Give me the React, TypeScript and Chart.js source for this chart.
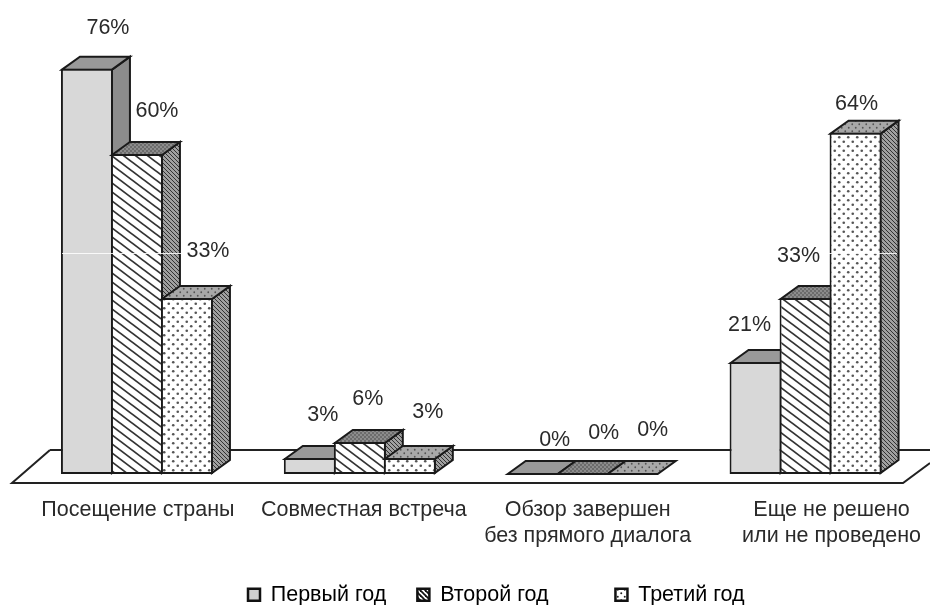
import React, { useEffect, useRef } from "react";
import { Chart, registerables } from "chart.js";

Chart.register(...registerables);

const categories: (string | string[])[] = [
  "Посещение страны",
  "Совместная встреча",
  ["Обзор завершен", "без прямого диалога"],
  ["Еще не решено", "или не проведено"],
];
const seriesNames = ["Первый год", "Второй год", "Третий год"];
const firstYear = [76, 3, 0, 21];
const secondYear = [60, 6, 0, 33];
const thirdYear = [33, 3, 0, 64];

// where each label sits relative to the top of its bar
const labelShiftX = [[21, 13, 22, -6], [20, 8, 21, -7], [21, 18, 20, 1]];
const labelShiftY = [[-41, -43, -34, -37], [-43, -43, -41, -42], [-47, -46, -44, -29]];
const tickShiftX = [1, 4, 5, 26];
const legendGapSpaces = ["", "      ", ""];

const FONT = "'Liberation Sans', Arial, sans-serif";
const FONT_SIZE = 21.5;
const DEPTH_X = 18;
const DEPTH_Y = 13;
const INK = "#1a1a1a";

function tile(w: number, h: number, paint: (c: CanvasRenderingContext2D) => void): CanvasPattern {
  const cv = document.createElement("canvas");
  cv.width = w;
  cv.height = h;
  const c = cv.getContext("2d")!;
  paint(c);
  return c.createPattern(cv, "repeat")!;
}
function hatch(w: number, h: number, bg: string, ink: string, lw: number) {
  return tile(w, h, (c) => {
    c.fillStyle = bg;
    c.fillRect(0, 0, w, h);
    c.strokeStyle = ink;
    c.lineWidth = lw;
    for (const o of [-h, 0, h]) {
      c.beginPath();
      c.moveTo(-w, o - h);
      c.lineTo(2 * w, o + 2 * h);
      c.stroke();
    }
  });
}
function dots(size: number, bg: string, ink: string, r: number) {
  return tile(size, size, (c) => {
    c.fillStyle = bg;
    c.fillRect(0, 0, size, size);
    c.fillStyle = ink;
    for (const [x, y] of [[size / 4, size / 4], [(3 * size) / 4, (3 * size) / 4]]) {
      c.beginPath();
      c.arc(x, y, r, 0, Math.PI * 2);
      c.fill();
    }
  });
}

export default function App() {
  const ref = useRef<HTMLCanvasElement>(null);
  useEffect(() => {
    const fronts = ["#d8d8d8", hatch(12, 9, "#ffffff", "#333333", 1.7), dots(9, "#ffffff", "#555555", 1.3)];
    const tops = ["#999999", dots(4, "#8c8c8c", "#444444", 0.8), dots(7, "#a8a8a8", "#555555", 0.9)];
    const sides = ["#8c8c8c", hatch(4, 4, "#a0a0a0", "#333333", 1), hatch(4, 4, "#a0a0a0", "#333333", 1)];
    const legendFills = ["#cfcfcf", hatch(5, 5, "#ffffff", "#111111", 1.8), dots(7, "#ffffff", "#222222", 1)];

    const faces = {
      id: "faces",
      beforeDatasetsDraw(chart: any) {
        const c = chart.ctx;
        c.save();
        c.strokeStyle = "#222";
        c.lineWidth = 2;
        c.beginPath();
        c.moveTo(50, 450);
        c.lineTo(930, 450);
        c.moveTo(50, 450);
        c.lineTo(12, 483);
        c.lineTo(903, 483);
        c.lineTo(930, 463);
        c.stroke();
        c.restore();
      },
      // the library paints the last series first; here the first series must go first
      beforeDatasetDraw() {
        return false;
      },
      afterDatasetsDraw(chart: any) {
        const c = chart.ctx;
        chart.data.datasets.forEach((_: any, i: number) => {
          const meta = chart.getDatasetMeta(i);
          c.save();
          c.strokeStyle = INK;
          c.lineWidth = 2;
          c.lineJoin = "miter";
          meta.data.forEach((bar: any) => {
            const l = bar.x - bar.width / 2 + 1;
            const r = bar.x + bar.width / 2 - 1;
            const flat = bar.base - bar.y < 0.5;
            const t = flat ? bar.y : bar.y + 1;
            const b = flat ? bar.base : bar.base - 1;
            if (!flat) {
              c.fillStyle = sides[i];
              c.beginPath();
              c.moveTo(r, t);
              c.lineTo(r + DEPTH_X, t - DEPTH_Y);
              c.lineTo(r + DEPTH_X, b - DEPTH_Y);
              c.lineTo(r, b);
              c.closePath();
              c.fill();
              c.stroke();
            }
            c.fillStyle = tops[i];
            c.beginPath();
            c.moveTo(l, t);
            c.lineTo(l + DEPTH_X, t - DEPTH_Y);
            c.lineTo(r + DEPTH_X, t - DEPTH_Y);
            c.lineTo(r, t);
            c.closePath();
            c.fill();
            c.stroke();
          });
          c.restore();
          meta.data.forEach((bar: any) => bar.draw(c));
        });
        c.save();
        // pale scan line that crosses the bars in the source picture
        const y = Math.round(chart.scales.y.getPixelForValue(41.5)) + 0.5;
        c.strokeStyle = "rgba(255,255,255,0.85)";
        c.lineWidth = 1;
        c.beginPath();
        c.moveTo(62, y);
        c.lineTo(897, y);
        c.stroke();
        c.fillStyle = "#2a2a2a";
        c.font = `${FONT_SIZE}px ${FONT}`;
        c.textAlign = "center";
        c.textBaseline = "middle";
        chart.data.datasets.forEach((ds: any, i: number) => {
          chart.getDatasetMeta(i).data.forEach((bar: any, j: number) => {
            c.fillText(`${ds.data[j]}%`, bar.x + labelShiftX[i][j], bar.y + labelShiftY[i][j]);
          });
        });
        c.restore();
      },
      beforeDraw(chart: any) {
        const items = chart.scales.x.getLabelItems();
        items.forEach((it: any, i: number) => {
          if (!it.__moved) {
            it.options.translation[0] += tickShiftX[i];
            it.__moved = true;
          }
        });
        const lg = chart.legend;
        lg.left = 248 - 31;
        lg.right = 930;
        lg.top = 553;
      },
    };

    const chart = new Chart(ref.current!, {
      type: "bar",
      data: {
        labels: categories as any,
        datasets: [firstYear, secondYear, thirdYear].map((values, i) => ({
          label: seriesNames[i],
          data: values,
          backgroundColor: fronts[i] as any,
          borderColor: INK,
          borderWidth: 2,
          borderSkipped: false,
          barPercentage: 1.04,
          categoryPercentage: 0.673,
        })),
      },
      options: {
        responsive: false,
        animation: false,
        layout: { padding: { left: 25.5, right: 13, top: 10, bottom: -20 } },
        plugins: {
          tooltip: { enabled: false },
          legend: {
            position: "bottom",
            align: "start",
            labels: {
              boxWidth: 12,
              boxHeight: 12,
              padding: 31,
              color: "#2a2a2a",
              font: { family: FONT, size: FONT_SIZE },
              generateLabels: () =>
                seriesNames.map((name, i) => ({
                  text: name + legendGapSpaces[i],
                  fillStyle: legendFills[i] as any,
                  strokeStyle: "#111",
                  lineWidth: 2.5,
                  datasetIndex: i,
                  hidden: false,
                })),
            },
          },
        },
        scales: {
          x: {
            grid: { display: false, drawTicks: false },
            border: { display: false },
            ticks: {
              autoSkip: false,
              maxRotation: 0,
              padding: 23,
              color: "#2a2a2a",
              font: { family: FONT, size: FONT_SIZE, lineHeight: 1.21 },
            },
            afterFit: (s: any) => {
              s.height = 88.5;
            },
          },
          y: { display: false, min: 0, max: 87 },
        },
      },
      plugins: [faces],
    } as any);
    return () => chart.destroy();
  }, []);
  return (
    <canvas
      ref={ref}
      width={930}
      height={605}
      style={{ position: "absolute", left: 0, top: 0, display: "block", filter: "blur(0.35px)" }}
    />
  );
}
